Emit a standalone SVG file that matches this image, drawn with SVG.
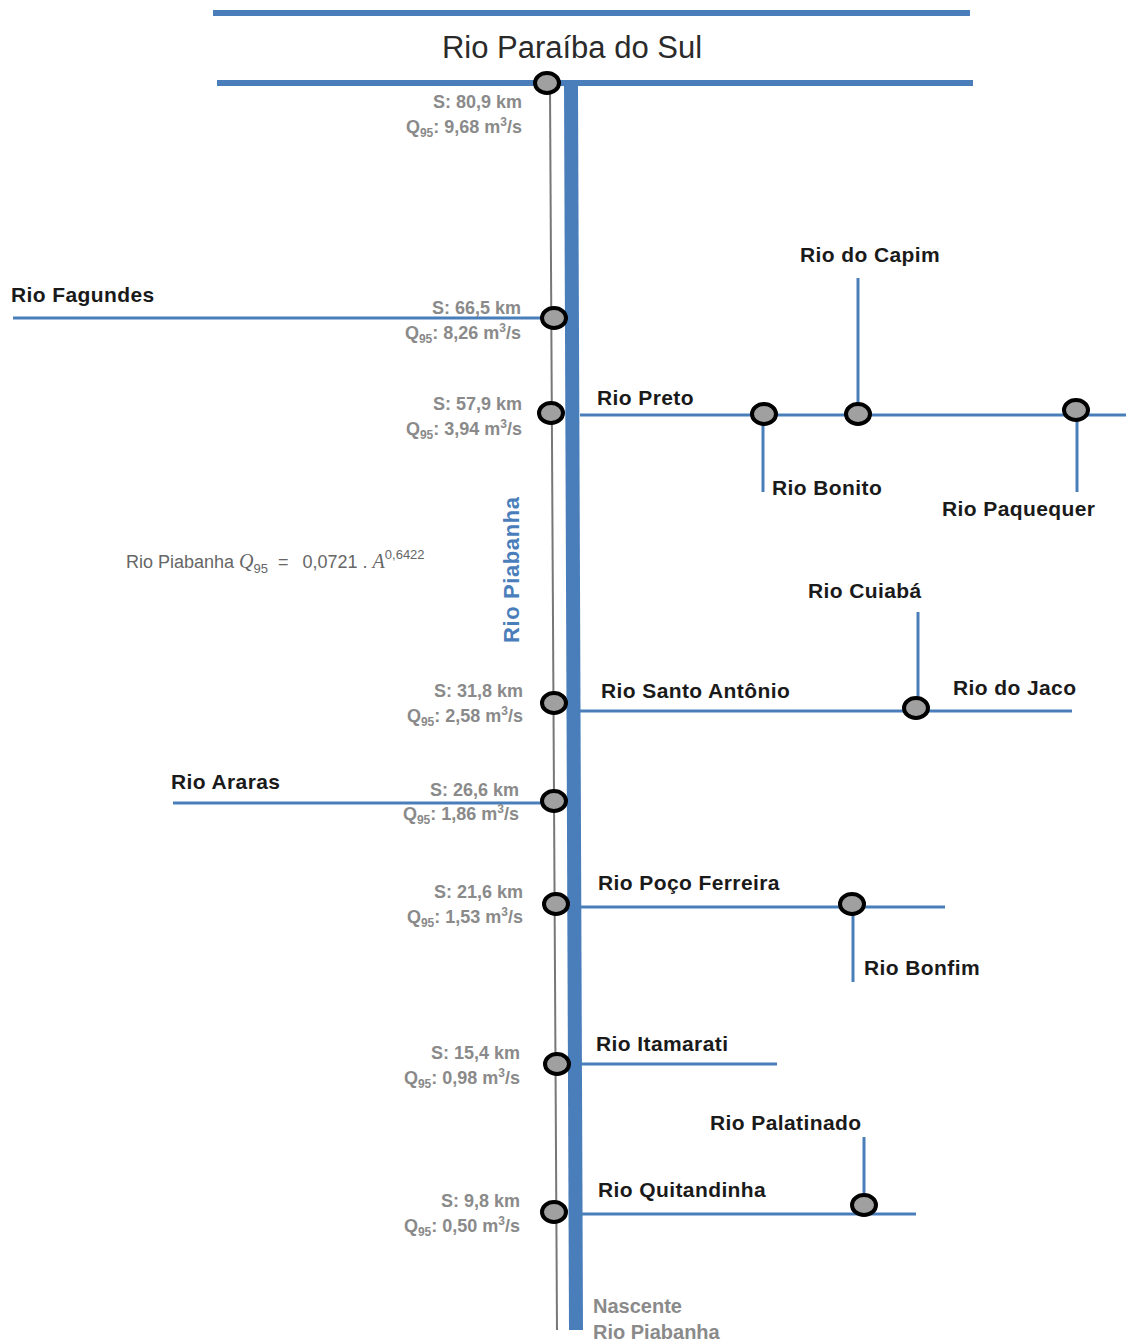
<svg xmlns="http://www.w3.org/2000/svg" width="1126" height="1344" viewBox="0 0 1126 1344">
<style>
.river{stroke:#4a7ebb;stroke-width:3;fill:none}
.big{stroke:#4a7ebb;stroke-width:6;fill:none}
.node{fill:#a0a0a0;stroke:#000;stroke-width:4}
.lbl{font-family:"Liberation Sans",Arial,sans-serif;font-weight:bold;font-size:21px;letter-spacing:0.4px;fill:#1a1a1a}
.sq{font-family:"Liberation Sans",Arial,sans-serif;font-weight:bold;font-size:18px;fill:#8a8a8a;text-anchor:end}
.sub{font-size:12px}
.gray{font-family:"Liberation Sans",Arial,sans-serif;font-weight:bold;font-size:20px;fill:#8a8a8a}
</style>
<rect width="1126" height="1344" fill="#fff"/>
<g id="connectors">
<line class="big" x1="213" y1="13" x2="970" y2="13"/>
<line class="big" x1="217" y1="83" x2="973" y2="83"/>
<line x1="550" y1="88" x2="557" y2="1330" stroke="#777" stroke-width="2"/>
<line x1="571" y1="86" x2="576" y2="1330" stroke="#4a7ebb" stroke-width="14"/>
<line class="river" x1="13" y1="318" x2="545" y2="318"/>
<line class="river" x1="580" y1="415" x2="1126" y2="415"/>
<line class="river" x1="858" y1="278" x2="858" y2="405"/>
<line class="river" x1="763" y1="424" x2="763" y2="492"/>
<line class="river" x1="1077" y1="420" x2="1077" y2="492"/>
<line class="river" x1="580" y1="711" x2="1072" y2="711"/>
<line class="river" x1="918" y1="612" x2="918" y2="700"/>
<line class="river" x1="173" y1="803" x2="545" y2="803"/>
<line class="river" x1="580" y1="907" x2="945" y2="907"/>
<line class="river" x1="853" y1="912" x2="853" y2="982"/>
<line class="river" x1="580" y1="1064" x2="777" y2="1064"/>
<line class="river" x1="580" y1="1214" x2="916" y2="1214"/>
<line class="river" x1="864" y1="1137" x2="864" y2="1196"/>
</g>
<g id="title"><text x="572" y="58" text-anchor="middle" font-family="Liberation Sans,Arial,sans-serif" font-size="31" fill="#2a2a2a">Rio Paraíba do Sul</text></g>
<g id="n1"><ellipse class="node" cx="547" cy="83" rx="12" ry="10"/>
<text class="sq" x="522" y="108">S: 80,9 km</text>
<text class="sq" x="522" y="133">Q<tspan class="sub" dy="4">95</tspan><tspan dy="-4">: 9,68 m</tspan><tspan class="sub" dy="-7">3</tspan><tspan dy="7">/s</tspan></text></g>
<g id="n2"><ellipse class="node" cx="554" cy="318" rx="12" ry="10"/>
<text class="sq" x="521" y="314">S: 66,5 km</text>
<text class="sq" x="521" y="339">Q<tspan class="sub" dy="4">95</tspan><tspan dy="-4">: 8,26 m</tspan><tspan class="sub" dy="-7">3</tspan><tspan dy="7">/s</tspan></text></g>
<g id="n3"><ellipse class="node" cx="551" cy="413" rx="12" ry="10"/>
<text class="sq" x="522" y="410">S: 57,9 km</text>
<text class="sq" x="522" y="435">Q<tspan class="sub" dy="4">95</tspan><tspan dy="-4">: 3,94 m</tspan><tspan class="sub" dy="-7">3</tspan><tspan dy="7">/s</tspan></text></g>
<g id="n4"><ellipse class="node" cx="554" cy="703" rx="12" ry="10"/>
<text class="sq" x="523" y="697">S: 31,8 km</text>
<text class="sq" x="523" y="722">Q<tspan class="sub" dy="4">95</tspan><tspan dy="-4">: 2,58 m</tspan><tspan class="sub" dy="-7">3</tspan><tspan dy="7">/s</tspan></text></g>
<g id="n5"><ellipse class="node" cx="554" cy="801" rx="12" ry="10"/>
<text class="sq" x="519" y="796">S: 26,6 km</text>
<text class="sq" x="519" y="820">Q<tspan class="sub" dy="4">95</tspan><tspan dy="-4">: 1,86 m</tspan><tspan class="sub" dy="-7">3</tspan><tspan dy="7">/s</tspan></text></g>
<g id="n6"><ellipse class="node" cx="556" cy="904" rx="12" ry="10"/>
<text class="sq" x="523" y="898">S: 21,6 km</text>
<text class="sq" x="523" y="923">Q<tspan class="sub" dy="4">95</tspan><tspan dy="-4">: 1,53 m</tspan><tspan class="sub" dy="-7">3</tspan><tspan dy="7">/s</tspan></text></g>
<g id="n7"><ellipse class="node" cx="557" cy="1064" rx="12" ry="10"/>
<text class="sq" x="520" y="1059">S: 15,4 km</text>
<text class="sq" x="520" y="1084">Q<tspan class="sub" dy="4">95</tspan><tspan dy="-4">: 0,98 m</tspan><tspan class="sub" dy="-7">3</tspan><tspan dy="7">/s</tspan></text></g>
<g id="n8"><ellipse class="node" cx="554" cy="1212" rx="12" ry="10"/>
<text class="sq" x="520" y="1207">S: 9,8 km</text>
<text class="sq" x="520" y="1232">Q<tspan class="sub" dy="4">95</tspan><tspan dy="-4">: 0,50 m</tspan><tspan class="sub" dy="-7">3</tspan><tspan dy="7">/s</tspan></text></g>
<g id="fagundes"><text class="lbl" x="11" y="302">Rio Fagundes</text></g>
<g id="preto"><text class="lbl" x="597" y="405">Rio Preto</text></g>
<g id="bonito"><ellipse class="node" cx="764" cy="414" rx="12" ry="10"/><text class="lbl" x="772" y="495">Rio Bonito</text></g>
<g id="capim"><ellipse class="node" cx="858" cy="414" rx="12" ry="10"/><text class="lbl" x="800" y="262">Rio do Capim</text></g>
<g id="paquequer"><ellipse class="node" cx="1076" cy="410" rx="12" ry="10"/><text class="lbl" x="942" y="516">Rio Paquequer</text></g>
<g id="piabanha"><text transform="translate(519,643) rotate(-90)" font-family="Liberation Sans,Arial,sans-serif" font-weight="bold" font-size="22" letter-spacing="0.6" fill="#4a7ebb">Rio Piabanha</text></g>
<g id="formula"><text x="126" y="568" font-family="Liberation Sans,Arial,sans-serif" font-size="18" fill="#666">Rio Piabanha <tspan font-family="Liberation Serif,serif" font-style="italic" font-size="20">Q</tspan><tspan font-size="13" dy="5">95</tspan><tspan dy="-5" dx="10">=</tspan><tspan dx="14">0,0721 . </tspan><tspan font-family="Liberation Serif,serif" font-style="italic" font-size="20">A</tspan><tspan font-size="13" dy="-9">0,6422</tspan></text></g>
<g id="santoantonio"><text class="lbl" x="601" y="698">Rio Santo Antônio</text></g>
<g id="cuiaba"><ellipse class="node" cx="916" cy="708" rx="12" ry="10"/><text class="lbl" x="808" y="598">Rio Cuiabá</text></g>
<g id="jaco"><text class="lbl" x="953" y="695">Rio do Jaco</text></g>
<g id="araras"><text class="lbl" x="171" y="789">Rio Araras</text></g>
<g id="pocoferreira"><text class="lbl" x="598" y="890">Rio Poço Ferreira</text></g>
<g id="bonfim"><ellipse class="node" cx="852" cy="904" rx="12" ry="10"/><text class="lbl" x="864" y="975">Rio Bonfim</text></g>
<g id="itamarati"><text class="lbl" x="596" y="1051">Rio Itamarati</text></g>
<g id="quitandinha"><text class="lbl" x="598" y="1197">Rio Quitandinha</text></g>
<g id="palatinado"><ellipse class="node" cx="864" cy="1205" rx="12" ry="10"/><text class="lbl" x="710" y="1130">Rio Palatinado</text></g>
<g id="nascente"><text class="gray" x="593" y="1313">Nascente</text><text class="gray" x="593" y="1339">Rio Piabanha</text></g>
</svg>
